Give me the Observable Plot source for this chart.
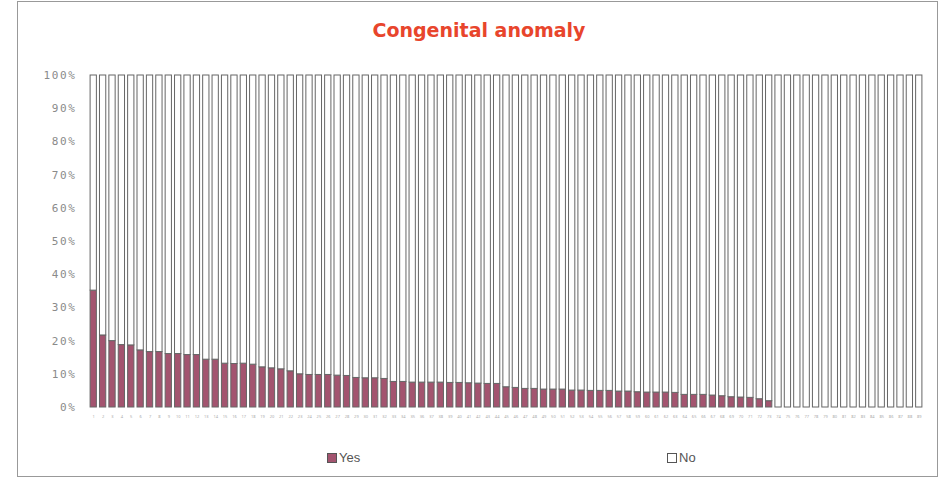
<!DOCTYPE html>
<html><head><meta charset="utf-8">
<script src="https://cdn.jsdelivr.net/npm/d3@7"></script>
<script src="https://cdn.jsdelivr.net/npm/@observablehq/plot@0.6"></script>
<style>
html,body{margin:0;padding:0;background:#fff;}
#wrap{position:relative;width:941px;height:481px;overflow:hidden;}
#frame{position:absolute;left:17px;top:1px;width:921px;height:476px;border:1px solid #999;box-sizing:border-box;}
#title{position:absolute;left:0;width:958px;top:19px;text-align:center;font-family:"DejaVu Sans",Verdana,sans-serif;font-weight:bold;font-size:19px;color:#e8452c;}
.leg{position:absolute;top:450px;font-family:"Liberation Sans",Arial,sans-serif;font-size:13px;color:#555;display:flex;align-items:center;}
.sw{display:inline-block;width:8px;height:8px;border:1px solid #555;margin-right:2px;}
svg{position:absolute;left:0;top:0;}
</style></head>
<body>
<div id="wrap">
<div id="frame"></div>
<div id="title">Congenital anomaly</div>
<div class="leg" style="left:327px"><span class="sw" style="background:#a3546f"></span>Yes</div>
<div class="leg" style="left:667px"><span class="sw" style="background:#fff"></span>No</div>
</div>
<script>
const categories = d3.range(1, 90).map(String);
const seriesNames = ["Yes", "No"];
const yesPct = [
 35.2, 21.7, 20.0, 18.8, 18.7, 17.2, 16.7, 16.7, 16.1, 16.1,
 15.8, 15.8, 14.4, 14.4, 13.2, 13.1, 13.2, 12.9, 12.1, 11.8,
 11.5, 10.9, 10.0, 9.8, 9.8, 9.8, 9.6, 9.5, 8.9, 8.8,
 8.8, 8.6, 7.7, 7.7, 7.5, 7.5, 7.5, 7.5, 7.4, 7.4,
 7.3, 7.2, 7.1, 7.1, 6.1, 5.9, 5.6, 5.6, 5.4, 5.4,
 5.4, 5.1, 5.1, 5.0, 5.0, 5.0, 4.8, 4.8, 4.6, 4.5,
 4.5, 4.5, 4.4, 3.8, 3.8, 3.8, 3.6, 3.4, 3.1, 3.0,
 2.9, 2.5, 1.9, 0, 0, 0, 0, 0, 0, 0,
 0, 0, 0, 0, 0, 0, 0, 0, 0
];
const noPct = yesPct.map(v => 100 - v);
const yTicks = [0, 10, 20, 30, 40, 50, 60, 70, 80, 90, 100];

const rows = [];
categories.forEach((c, i) => {
  rows.push({cat: c, series: "Yes", value: yesPct[i]});
  rows.push({cat: c, series: "No", value: noPct[i]});
});

const chart = Plot.plot({
  width: 941, height: 481,
  marginTop: 75, marginBottom: 74, marginLeft: 87, marginRight: 16,
  style: {background: "transparent", overflow: "visible"},
  x: {domain: categories, padding: 0.33, label: null, tickSize: 0, tickPadding: 8},
  y: {domain: [0, 100], ticks: yTicks, label: null, tickSize: 0, tickPadding: 11, tickFormat: d => d + "%"},
  color: {domain: seriesNames, range: ["#a3546f", "#ffffff"]},
  marks: [
    Plot.barY(rows, {x: "cat", y: "value", fill: "series", stroke: "#666", strokeWidth: 1, order: seriesNames}),
    Plot.axisY({ticks: yTicks, tickSize: 0, tickPadding: 11, tickFormat: d => d + "%", label: null,
      fontFamily: "DejaVu Sans Mono, monospace", fontSize: 11, fill: "#8a8a8a"}),
    Plot.axisX({tickSize: 0, tickPadding: 8, label: null, fontSize: 4, fill: "#aaa"})
  ]
});
chart.querySelectorAll('[aria-label="y-axis tick label"] text').forEach(t => t.style.letterSpacing = "1.6px");
document.getElementById("wrap").appendChild(chart);
</script>
</body></html>
